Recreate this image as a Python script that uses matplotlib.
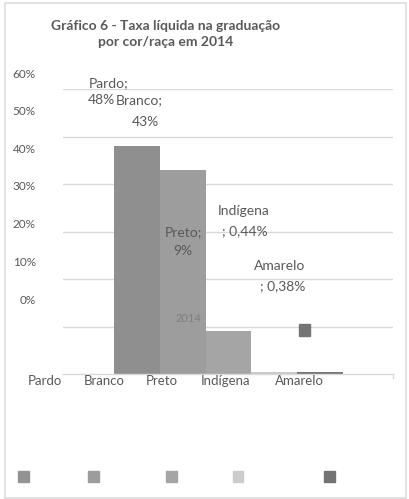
import matplotlib
matplotlib.use("Agg")
import matplotlib.pyplot as plt
from matplotlib.patches import Rectangle
from matplotlib.lines import Line2D

# --- data -------------------------------------------------------------
categories = ["Pardo", "Branco", "Preto", "Indígena", "Amarelo"]
values = [48, 43, 9, 0.44, 0.38]          # taxa líquida (%)
year_label = "2014"
y_ticks = [0, 10, 20, 30, 40, 50, 60]
title = "Gráfico 6 - Taxa líquida na graduação\npor cor/raça em 2014"

# --- style --------------------------------------------------------------
bar_colors = ["#8f8f8f", "#9d9d9d", "#a5a5a5", "#c9c9c9", "#747474"]
legend_colors = ["#939393", "#9c9c9c", "#a5a5a5", "#cccccc", "#737373"]
text_color = "#595959"
grid_color = "#d9d9d9"
FONT = "Lato"

W, H = 409, 499
fig = plt.figure(figsize=(W / 100, H / 100), dpi=100)
fig.patch.set_facecolor("white")


def fx(px):
    return px / W


def fy(py):
    return 1 - py / H


# outer chart frame
fig.add_artist(Rectangle((fx(5), fy(498)), fx(406) - fx(5), fy(3) - fy(498),
                         transform=fig.transFigure, fill=False,
                         edgecolor="#dcdcdc", lw=1.2))

# title
fig.text(fx(166), fy(34), title, ha="center", va="center", fontsize=10,
         fontweight="bold", color=text_color, family=FONT, linespacing=1.3)

# plot area (0% at y=374 px, 60% at y=89 px)
ax = fig.add_axes([fx(63), fy(374), fx(393) - fx(63), fy(89) - fy(374)])
x = list(range(len(categories)))
ax.bar(x, values, width=1.0, color=bar_colors, zorder=2)
bar_px = 45.8
ax.set_xlim(-0.5 - (114 - 63) / bar_px, len(categories) - 0.5 + (393 - 343) / bar_px)
ax.set_ylim(0, 60)
ax.set_yticks(y_ticks[1:])
ax.yaxis.grid(True, color=grid_color, lw=1.0, zorder=0)
ax.tick_params(left=False, bottom=False, labelleft=False, labelbottom=False)
for s in ["top", "right", "left"]:
    ax.spines[s].set_visible(False)
ax.spines["bottom"].set_color(grid_color)
ax.spines["bottom"].set_linewidth(1.0)
ax.add_line(Line2D([1, 1], [0, -0.013], transform=ax.transAxes, color=grid_color,
                   lw=1.0, clip_on=False))

# value axis labels, drawn on their own strip
axl = fig.add_axes([fx(63), fy(299), 0.001, fy(73) - fy(299)])
axl.set_ylim(y_ticks[0], y_ticks[-1])
axl.set_yticks(y_ticks)
axl.set_yticklabels([f"{t}%" for t in y_ticks], family=FONT, fontsize=8.5,
                    color=text_color)
axl.tick_params(left=False, bottom=False, labelbottom=False, pad=16)
axl.set_frame_on(False)
axl.patch.set_alpha(0)

# category labels along the bottom
cat_centers = [45, 104, 162, 226, 299]
for name, cx in zip(categories, cat_centers):
    fig.text(fx(cx), fy(381), name, ha="center", va="center", fontsize=9.5,
             color=text_color, family=FONT)


def pct(v):
    s = f"{v:g}".replace(".", ",")
    return s + "%"


# data labels (two lines each)
label_layout = [
    # (line-1 center x, line-1 y, line-2 center x, line-2 y, split after name)
    (109, 83, 101, 100, True),
    (139, 100, 145, 122, True),
    (183, 232, 183, 251, True),
    (244, 211, 245, 231, False),
    (280, 266, 283, 286, False),
]
for name, v, (x1, y1, x2, y2, split) in zip(categories, values, label_layout):
    if split:
        l1, l2 = f"{name};", pct(v)
    else:
        l1, l2 = name, f"; {pct(v)}"
    fig.text(fx(x1), fy(y1), l1, ha="center", va="center", fontsize=10,
             color=text_color, family=FONT)
    fig.text(fx(x2), fy(y2), l2, ha="center", va="center", fontsize=10,
             color=text_color, family=FONT)

# series name
fig.text(fx(188), fy(318), year_label, ha="center", va="center", fontsize=8,
         color="#7f7f7f", family=FONT)

# stray series marker
fig.add_artist(Rectangle((fx(299), fy(336)), fx(11), fy(0) - fy(12),
                         transform=fig.transFigure, color=legend_colors[-1]))

# legend swatches
legend_x = [23, 93, 171, 238, 329]
for c, lx in zip(legend_colors, legend_x):
    fig.add_artist(Rectangle((fx(lx - 5.5), fy(481.5)), fx(11), fy(0) - fy(11),
                             transform=fig.transFigure, color=c))

fig.savefig("out.png", dpi=100)
